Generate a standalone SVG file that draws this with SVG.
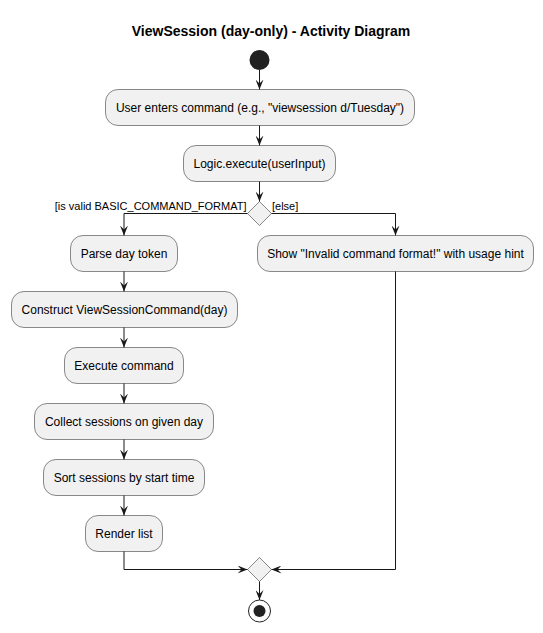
<svg xmlns="http://www.w3.org/2000/svg" width="543" height="633" viewBox="0 0 543 633">
<style>
.box{fill:#F1F1F1;stroke:#181818;stroke-width:0.5}
.t{font-family:"Liberation Sans",Arial,sans-serif;font-size:12px;fill:#000;text-anchor:middle}
.g{font-family:"Liberation Sans",Arial,sans-serif;font-size:11px;fill:#000}
.title{font-family:"Liberation Sans",Arial,sans-serif;font-size:14px;font-weight:bold;fill:#000;text-anchor:middle}
.c{fill:none;stroke:#181818;stroke-width:1}
</style>
<defs>
<marker id="ah" markerUnits="userSpaceOnUse" markerWidth="10" markerHeight="8" refX="10" refY="4" orient="auto">
<path d="M0,0 L10,4 L0,8 L4,4 z" fill="#181818"/>
</marker>
</defs>
<rect width="543" height="633" fill="#FFFFFF"/>
<text class="title" x="271" y="36">ViewSession (day-only) - Activity Diagram</text>

<g id="start"><circle cx="259.5" cy="60" r="10" fill="#222222"/></g>
<g id="n1"><rect class="box" x="105.5" y="89.5" width="309" height="36" rx="12.5"/><text class="t" x="260" y="111.7">User enters command (e.g., "viewsession d/Tuesday")</text></g>
<g id="n2"><rect class="box" x="183.5" y="145.5" width="152" height="36" rx="12.5"/><text class="t" x="259.5" y="167.7">Logic.execute(userInput)</text></g>
<g id="decision"><polygon class="box" points="259.5,201.5 271.5,213.5 259.5,225.5 247.5,213.5"/></g>
<g id="n3"><rect class="box" x="70.5" y="235.5" width="107" height="36" rx="12.5"/><text class="t" x="124" y="257.7">Parse day token</text></g>
<g id="n4"><rect class="box" x="11.5" y="291.5" width="226" height="36" rx="12.5"/><text class="t" x="124.5" y="313.7">Construct ViewSessionCommand(day)</text></g>
<g id="n5"><rect class="box" x="64.5" y="347.5" width="119" height="36" rx="12.5"/><text class="t" x="124" y="369.7">Execute command</text></g>
<g id="n6"><rect class="box" x="34.5" y="403.5" width="179" height="36" rx="12.5"/><text class="t" x="124" y="425.7">Collect sessions on given day</text></g>
<g id="n7"><rect class="box" x="43.5" y="459.5" width="161" height="36" rx="12.5"/><text class="t" x="124" y="481.7">Sort sessions by start time</text></g>
<g id="n8"><rect class="box" x="85.5" y="515.5" width="77" height="36" rx="12.5"/><text class="t" x="124" y="537.7">Render list</text></g>
<g id="n9"><rect class="box" x="257.5" y="235.5" width="276" height="36" rx="12.5"/><text class="t" x="395.5" y="257.7">Show "Invalid command format!" with usage hint</text></g>
<g id="merge"><polygon class="box" points="259.5,557.5 271.5,569.5 259.5,581.5 247.5,569.5"/></g>
<g id="end"><circle cx="259.5" cy="611" r="11" fill="none" stroke="#222222" stroke-width="1"/><circle cx="259.5" cy="611" r="6" fill="#222222"/></g>

<g id="connectors">
<path class="c" d="M259.5,70 L259.5,89.5" marker-end="url(#ah)"/>
<path class="c" d="M259.5,125.5 L259.5,145.5" marker-end="url(#ah)"/>
<path class="c" d="M259.5,181.5 L259.5,201.5" marker-end="url(#ah)"/>
<path class="c" d="M247.5,213.5 L124,213.5 L124,235.5" marker-end="url(#ah)"/>
<path class="c" d="M271.5,213.5 L395.5,213.5 L395.5,235.5" marker-end="url(#ah)"/>
<path class="c" d="M124,271.5 L124,291.5" marker-end="url(#ah)"/>
<path class="c" d="M124,327.5 L124,347.5" marker-end="url(#ah)"/>
<path class="c" d="M124,383.5 L124,403.5" marker-end="url(#ah)"/>
<path class="c" d="M124,439.5 L124,459.5" marker-end="url(#ah)"/>
<path class="c" d="M124,495.5 L124,515.5" marker-end="url(#ah)"/>
<path class="c" d="M124,551.5 L124,569.5 L247.5,569.5" marker-end="url(#ah)"/>
<path class="c" d="M395.5,271.5 L395.5,569.5 L271.5,569.5" marker-end="url(#ah)"/>
<path class="c" d="M259.5,581.5 L259.5,600" marker-end="url(#ah)"/>
<text class="g" x="246.5" y="210" text-anchor="end">[is valid BASIC_COMMAND_FORMAT]</text>
<text class="g" x="272" y="210">[else]</text>
</g>
</svg>
